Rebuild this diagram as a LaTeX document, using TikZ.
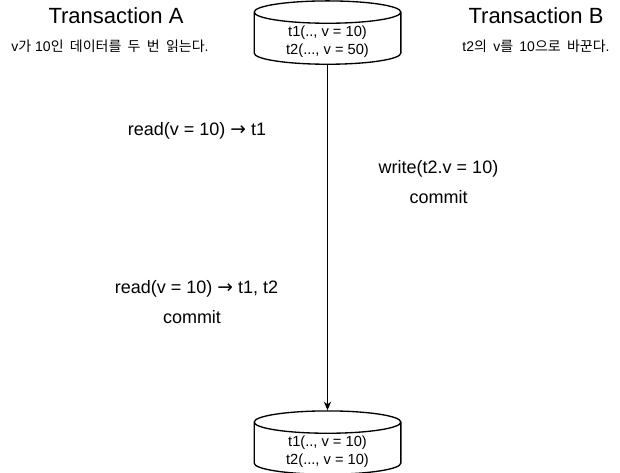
\documentclass[tikz,border=0pt]{standalone}
\usepackage{fontspec}
\setmainfont{Liberation Sans}
\newfontfamily\cjk[WordSpace=2]{Noto Sans CJK KR}
\newfontfamily\sym{DejaVu Sans}
\usetikzlibrary{shapes.geometric, arrows.meta, positioning}
\begin{document}
\begin{tikzpicture}[x=0.75pt, y=-0.75pt, >={Stealth[length=6.5pt,width=5.5pt]},
  db/.style={cylinder, shape border rotate=90, draw, line width=1pt, fill=white, aspect=0.27, minimum width=110pt, minimum height=47.5pt, inner sep=0pt, font=\fontsize{11pt}{13.5pt}\selectfont},
  rows/.style={font=\fontsize{11pt}{13.5pt}\selectfont, align=center, inner sep=0pt},
  title/.style={font=\fontsize{16.5pt}{18pt}\selectfont, inner sep=0pt},
  note/.style={font=\fontsize{10.5pt}{12pt}\selectfont, inner sep=0pt},
  op/.style={font=\fontsize{13.5pt}{22.5pt}\selectfont, align=center, inner sep=0pt}]
  \useasboundingbox[fill=white] (0,0) rectangle (620,473);
  \node[db] (before) at (327.5,38.5) {\phantom{t2(..., v = 50)}};
  \node[db] (after) at (327.5,448.5) {\phantom{t2(..., v = 10)}};
  \node[rows] (rowsa) at (327.5,41.5) {t1(.., v = 10)\\t2(..., v = 50)};
  \node[rows] (rowsb) at (327.5,451.5) {t1(.., v = 10)\\t2(..., v = 10)};
  \node[title] (txa) at (116,16) {Transaction A};
  \node[title] (txb) at (536,16) {Transaction B};
  \node[note] (notea) at (110,46) {v{\cjk 가} 10{\cjk 인 데이터를 두 번 읽는다}.};
  \node[note] (noteb) at (536,46) {t2{\cjk 의 }v{\cjk 를 }10{\cjk 으로 바꾼다}.};
  \node[op] (reada) at (197,131) {read(v = 10) {\sym\fontsize{14pt}{14pt}\selectfont →} t1};
  \node[op] (writeb) at (438.5,182) {write(t2.v = 10)\\commit};
  \node[op] (readb) at (196.5,289) {read(v = 10) {\sym\fontsize{14pt}{14pt}\selectfont →} t1, t2};
  \node[op] (commita) at (192,317) {commit};
  \draw[line width=0.75pt, ->] (before.bottom) -- (after.top);
\end{tikzpicture}
\end{document}
